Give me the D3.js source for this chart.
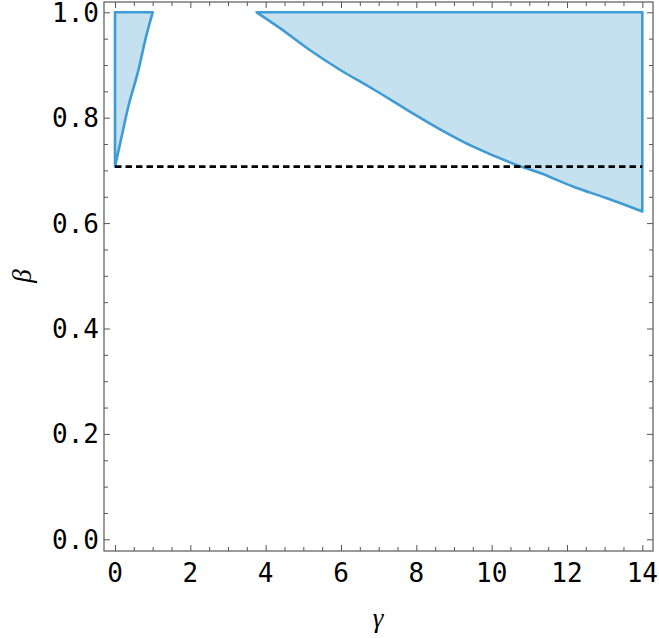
<!DOCTYPE html>
<html>
<head>
<meta charset="utf-8">
<script src="https://cdn.jsdelivr.net/npm/d3@7"></script>
<style>
  body { margin: 0; background: #fff; }
</style>
</head>
<body>
<div id="chart"></div>
<script>
// left region: boundary curve from (0, 1/sqrt2) up to beta = 1
const leftGamma = [0, 0.167, 0.364, 0.61, 0.815, 1.0];
const leftBeta  = [0.707, 0.761, 0.824, 0.887, 0.951, 1.0];

// right region: boundary curve from beta = 1 down to gamma = 14
const rightGamma = [3.76, 4.38, 5.18, 5.97, 6.86, 7.75, 8.63, 9.51, 10.71, 11.29, 12.17, 13.06, 14.0];
const rightBeta  = [1.0, 0.970, 0.928, 0.891, 0.854, 0.815, 0.778, 0.745, 0.709, 0.695, 0.669, 0.647, 0.622];

const betaThreshold = 0.7071;
const xTicks = [0, 2, 4, 6, 8, 10, 12, 14];
const yTicks = [0.0, 0.2, 0.4, 0.6, 0.8, 1.0];

const width = 659;
const height = 638;
const frame = { left: 104, right: 653, top: 2, bottom: 551 };

const svg = d3.select('#chart').append('svg')
    .attr('width', width)
    .attr('height', height);

const x = d3.scaleLinear().domain([0, 14]).range([115, 642.3]);
const y = d3.scaleLinear().domain([0, 1]).range([539.3, 12.3]);

const fillColor = '#c5e0ef';
const lineColor = '#3f9bd3';

const curve = d3.line()
    .x(d => x(d[0]))
    .y(d => y(d[1]))
    .curve(d3.curveCatmullRom);

function region(pts, closing) {
  let d = curve(pts);
  closing.forEach(p => { d += `L${x(p[0])},${y(p[1])}`; });
  svg.append('path')
      .attr('d', d + 'Z')
      .attr('fill', fillColor)
      .attr('stroke', lineColor)
      .attr('stroke-width', 2.6)
      .attr('stroke-linejoin', 'round');
}

// left region: curve up, then along top, then down the gamma = 0 edge
region(leftGamma.map((g, i) => [g, leftBeta[i]]), [[0, 1]]);
// right region: curve down, then up the gamma = 14 edge
region(rightGamma.map((g, i) => [g, rightBeta[i]]), [[14, 1]]);

// threshold line
svg.append('line')
    .attr('x1', x(0))
    .attr('x2', x(14))
    .attr('y1', y(betaThreshold))
    .attr('y2', y(betaThreshold))
    .attr('stroke', '#000')
    .attr('stroke-width', 2.6)
    .attr('stroke-dasharray', '6.5,4');

// frame
svg.append('rect')
    .attr('x', frame.left)
    .attr('y', frame.top)
    .attr('width', frame.right - frame.left)
    .attr('height', frame.bottom - frame.top)
    .attr('fill', 'none')
    .attr('stroke', '#666')
    .attr('stroke-width', 1.3);

const xMinor = d3.range(0, 14.001, 0.5).filter(v => !xTicks.includes(v));
const yMinor = d3.range(0, 1.001, 0.05).map(v => +v.toFixed(2)).filter(v => !yTicks.some(t => Math.abs(t - v) < 1e-6));

function tickAxis(axisFn, scale, values, size, pos, transformFn) {
  const g = svg.append('g')
      .attr('transform', transformFn(pos))
      .call(axisFn(scale).tickValues(values).tickSize(size).tickFormat(''));
  g.select('.domain').remove();
  g.selectAll('line').attr('stroke', '#555').attr('stroke-width', 1);
  return g;
}

// bottom / top ticks pointing inward
tickAxis(d3.axisTop, x, xTicks, 6, frame.bottom, p => `translate(0,${p})`);
tickAxis(d3.axisTop, x, xMinor, 4, frame.bottom, p => `translate(0,${p})`);
tickAxis(d3.axisBottom, x, xTicks, 6, frame.top, p => `translate(0,${p})`);
tickAxis(d3.axisBottom, x, xMinor, 4, frame.top, p => `translate(0,${p})`);
// left / right ticks pointing inward
tickAxis(d3.axisRight, y, yTicks, 6, frame.left, p => `translate(${p},0)`);
tickAxis(d3.axisRight, y, yMinor, 4, frame.left, p => `translate(${p},0)`);
tickAxis(d3.axisLeft, y, yTicks, 6, frame.right, p => `translate(${p},0)`);
tickAxis(d3.axisLeft, y, yMinor, 4, frame.right, p => `translate(${p},0)`);

// tick labels
const labelFont = "'DejaVu Sans Mono', monospace";
svg.append('g').selectAll('text')
    .data(xTicks)
    .join('text')
    .attr('x', d => x(d))
    .attr('y', 582)
    .attr('text-anchor', 'middle')
    .style('font-family', labelFont)
    .style('font-size', '26px')
    .text(d => d);

svg.append('g').selectAll('text')
    .data(yTicks)
    .join('text')
    .attr('x', 99)
    .attr('y', d => y(d) + 9.5)
    .attr('text-anchor', 'end')
    .style('font-family', labelFont)
    .style('font-size', '26px')
    .text(d => d.toFixed(1));

// axis titles
svg.append('text')
    .attr('x', 378)
    .attr('y', 627)
    .attr('text-anchor', 'middle')
    .style('font-family', "'Liberation Serif', serif")
    .style('font-style', 'italic')
    .style('font-size', '27px')
    .text('γ');

svg.append('text')
    .attr('transform', 'translate(31,276) rotate(-90)')
    .attr('text-anchor', 'middle')
    .style('font-family', "'Liberation Serif', serif")
    .style('font-style', 'italic')
    .style('font-size', '27px')
    .text('β');
</script>
</body>
</html>
